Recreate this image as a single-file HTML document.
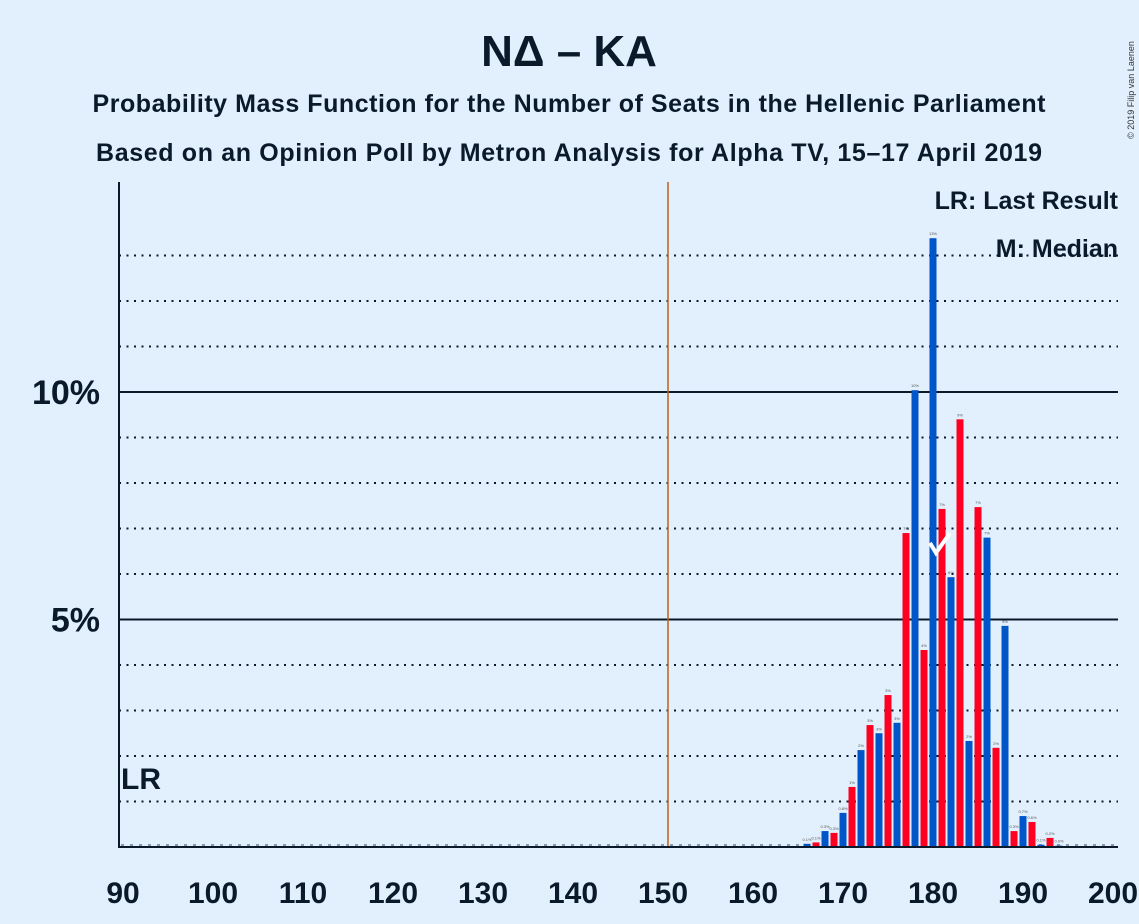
<!DOCTYPE html>
<html><head><meta charset="utf-8"><style>
body{margin:0;background:#e2effc;}
svg{display:block;font-family:"Liberation Sans","DejaVu Sans",sans-serif;}
</style></head><body>
<svg width="1139" height="924" viewBox="0 0 1139 924">
<rect width="1139" height="924" fill="#e2effc"/>
<text x="569" y="66" text-anchor="middle" font-size="44" font-weight="bold" fill="#0a1a2a">NΔ – KA</text>
<text x="569" y="112" text-anchor="middle" font-size="25" font-weight="bold" fill="#0a1a2a" textLength="953">Probability Mass Function for the Number of Seats in the Hellenic Parliament</text>
<text x="569" y="161" text-anchor="middle" font-size="25" font-weight="bold" fill="#0a1a2a" textLength="946">Based on an Opinion Poll by Metron Analysis for Alpha TV, 15–17 April 2019</text>
<text x="1134" y="90" font-size="9" fill="#333" transform="rotate(-90 1134 90)" text-anchor="middle">© 2019 Filip van Laenen</text>
<g id="grid"></g>
<g id="bars"></g>
<g id="axes"></g>
<text x="1118" y="209" text-anchor="end" font-size="25" font-weight="bold" fill="#0a1a2a">LR: Last Result</text>
<text x="1118" y="257" text-anchor="end" font-size="25" font-weight="bold" fill="#0a1a2a">M: Median</text>
<text x="121" y="789" font-size="30" font-weight="bold" fill="#0a1a2a">LR</text>
</svg>
<script>
const seats=[166,167,168,169,170,171,172,173,174,175,176,177,178,179,180,181,182,183,184,185,186,187,188,189,190,191,192,193,194];
const probs=[0.07,0.1,0.35,0.31,0.75,1.32,2.13,2.68,2.5,3.34,2.73,6.9,10.04,4.33,13.38,7.43,5.93,9.4,2.33,7.47,6.8,2.18,4.86,0.35,0.68,0.55,0.05,0.2,0.03];
const xTicks=[90,100,110,120,130,140,150,160,170,180,190,200];
const yGrid=[1,2,3,4,5,6,7,8,9,10,11,12,13];
const majority=150, median=181, lastResult=90;
const NS='http://www.w3.org/2000/svg';
const X=s=>123+(s-90)*9.0;
const Y=p=>847-p*45.5;
function mk(t,a,parent){const e=document.createElementNS(NS,t);for(const k in a)e.setAttribute(k,a[k]);parent.appendChild(e);return e;}
const grid=document.getElementById('grid'),bars=document.getElementById('bars'),axes=document.getElementById('axes');
yGrid.forEach(v=>{
 const major=v%5===0;
 const l=mk('line',{x1:119,x2:1118,y1:Y(v),y2:Y(v),stroke:'#0a1a2a','stroke-width':2,'stroke-dasharray':major?'':'2,5.5'},grid);
 
 
 if(major){const t=mk('text',{x:100,y:Y(v)+12,'text-anchor':'end','font-size':34,'font-weight':'bold',fill:'#0a1a2a'},axes);t.textContent=v+'%';
 
 }
});
const z=mk('line',{x1:121,x2:1118,y1:845,y2:845,stroke:'#8a9aaa','stroke-width':2,'stroke-dasharray':'3,6'},grid);


const maj=mk('line',{x1:X(majority)+5,x2:X(majority)+5,y1:182,y2:847,stroke:'#c0601a','stroke-width':1.5},grid);


seats.forEach((s,i)=>{
 const p=probs[i];const col=s%2?'#ff0022':'#0055c8';
 const r=mk('rect',{x:X(s)-3.5,y:Y(p),width:7,height:847-Y(p),fill:col},bars);
 
 
 const t=mk('text',{x:X(s),y:Y(p)-3,'text-anchor':'middle','font-size':4,fill:'#555'},bars);
 t.textContent=(p<1?p.toFixed(1):Math.round(p))+'%';
 
 
});
const mi=seats.indexOf(median);
const mx=X(median)-6, my=Y(probs[mi])+40;
const m=mk('polyline',{points:`${mx-6},${my-6} ${mx},${my+4} ${mx+14},${my-16}`,fill:'none',stroke:'#fff','stroke-width':4},bars);


const ya=mk('line',{x1:119,x2:119,y1:182,y2:848,stroke:'#0a1a2a','stroke-width':2},axes);


const xa=mk('line',{x1:118,x2:1118,y1:847,y2:847,stroke:'#0a1a2a','stroke-width':2},axes);


xTicks.forEach(v=>{const t=mk('text',{x:X(v),y:903,'text-anchor':'middle','font-size':30,'font-weight':'bold',fill:'#0a1a2a'},axes);t.textContent=v;
 
 });
</script>
</body></html>
